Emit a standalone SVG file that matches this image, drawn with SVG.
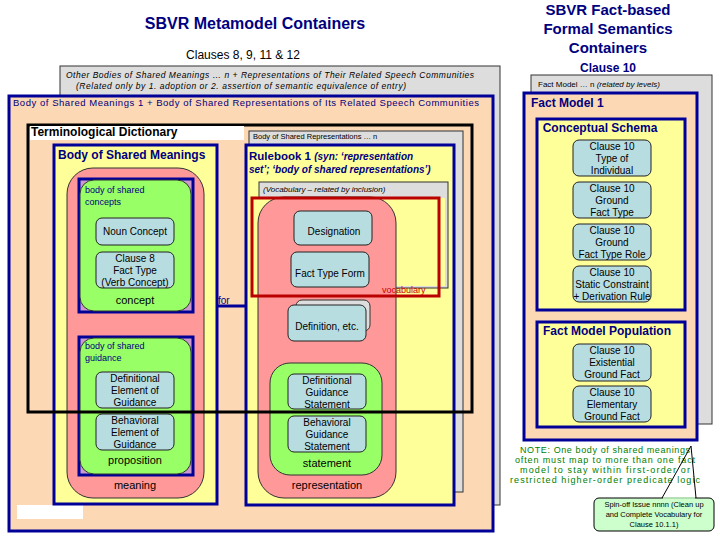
<svg xmlns="http://www.w3.org/2000/svg" width="720" height="540" viewBox="0 0 720 540">
<style>
text{font-family:"Liberation Sans",Arial,sans-serif}
.nv{stroke:#000099;stroke-width:3}
.peach{fill:#FCD8B4}
.yel{fill:#FFFF99}
.gray{fill:#DDDDDD;stroke:#333;stroke-width:1}
.pink{fill:#FF9999;stroke:#333;stroke-width:1}
.grn{fill:#99FF66;stroke:#333;stroke-width:1}
.bx{fill:#B8DDE0;stroke:#222;stroke-width:1}
.t{font-size:10px;fill:#000;text-anchor:middle}
.s{font-size:8.5px;fill:#000}
.h{font-weight:bold;fill:#000080}
.lbl{font-size:11px;fill:#000;text-anchor:middle}
.g{font-size:9px;fill:#008000;text-anchor:middle}
</style>
<rect width="720" height="540" fill="#fff"/>
<text x="255" y="29" font-size="16" class="h" text-anchor="middle">SBVR Metamodel Containers</text>
<text x="243" y="59" font-size="12" text-anchor="middle">Clauses 8, 9, 11 &amp; 12</text>
<g class="h" font-size="15" text-anchor="middle">
<text x="608" y="15">SBVR Fact-based</text><text x="608" y="34">Formal Semantics</text><text x="608" y="53">Containers</text>
<text x="608" y="72" font-size="12">Clause 10</text></g>

<g id="other-bodies"><rect x="60" y="66" width="440" height="439" class="gray"/>
<text x="66" y="78" class="s" font-style="italic" textLength="408">Other Bodies of Shared Meanings … n + Representations of Their Related Speech Communities</text>
<text x="76" y="89" class="s" font-style="italic" textLength="330">(Related only by 1. adoption or 2. assertion of semantic equivalence of entry)</text></g>

<g id="body1"><rect x="9" y="96" width="484" height="435" class="peach nv"/>
<text x="13" y="106" font-size="9.5" fill="#000080" textLength="466">Body of Shared Meanings 1 + Body of Shared Representations of Its Related Speech Communities</text>
<rect x="17" y="505" width="66" height="14" fill="#fff"/></g>

<g id="reps-n"><rect x="249" y="131" width="214" height="361" class="gray"/>
<text x="253" y="139" font-size="7.5">Body of Shared Representations … n</text></g>

<g id="bsm"><rect x="54" y="145" width="163" height="359" class="yel nv"/>
<text x="58" y="159" font-size="12" class="h">Body of Shared Meanings</text>
<rect x="67" y="168" width="137" height="330" rx="26" class="pink"/>
<text x="135" y="489" class="lbl">meaning</text></g>

<g id="concepts"><rect x="79" y="179" width="114" height="133" fill="#CC99CC" class="nv"/>
<rect x="80" y="180" width="111" height="131" rx="14" class="grn" stroke="none"/>
<text x="85" y="193" font-size="9" fill="#000080">body of shared</text><text x="85" y="205" font-size="9" fill="#000080">concepts</text>
<rect x="96" y="218" width="78" height="27" rx="6" class="bx"/><text x="135" y="235" class="t" font-size="9">Noun Concept</text>
<rect x="96" y="252" width="78" height="36" rx="6" class="bx"/>
<text x="135" y="262" class="t" font-size="9">Clause 8</text><text x="135" y="274" class="t" font-size="9">Fact Type</text><text x="135" y="286" class="t" font-size="9">(Verb Concept)</text>
<text x="135" y="304" class="lbl">concept</text></g>

<g id="guidance"><rect x="79" y="337" width="114" height="138" fill="#CC99CC" class="nv"/>
<rect x="80" y="338" width="111" height="136" rx="14" class="grn" stroke="none"/>
<text x="85" y="349" font-size="9" fill="#000080">body of shared</text><text x="85" y="361" font-size="9" fill="#000080">guidance</text>
<rect x="96" y="372" width="78" height="36" rx="6" class="bx"/>
<text x="135" y="382" class="t" font-size="9">Definitional</text><text x="135" y="394" class="t" font-size="9">Element of</text><text x="135" y="406" class="t" font-size="9">Guidance</text>
<rect x="96" y="414" width="78" height="36" rx="6" class="bx"/>
<text x="135" y="424" class="t" font-size="9">Behavioral</text><text x="135" y="436" class="t" font-size="9">Element of</text><text x="135" y="448" class="t" font-size="9">Guidance</text>
<text x="135" y="464" class="lbl">proposition</text></g>

<g id="rulebook"><rect x="246" y="145" width="208" height="360" class="yel nv"/>
<text x="249" y="160" font-size="11.5" font-weight="bold" fill="#000080">Rulebook 1 <tspan font-style="italic" font-size="10">(syn: ‘representation</tspan></text>
<text x="249" y="173" font-size="10" font-weight="bold" font-style="italic" fill="#000080">set’; ‘body of shared representations’)</text>
<rect x="259" y="182" width="189" height="106" class="gray"/>
<rect x="256" y="198" width="189" height="88" class="yel"/>
<text x="263" y="192" font-size="8" font-style="italic">(Vocabulary – related by inclusion)</text>
<rect x="258" y="197" width="138" height="301" rx="26" class="pink"/>
<text x="327" y="489" class="lbl">representation</text></g>

<g id="designation"><rect x="294" y="211" width="78" height="34" rx="6" class="bx"/><text x="334" y="235" class="t" font-size="9">Designation</text></g>
<g id="fact-type-form"><rect x="291" y="252" width="78" height="35" rx="6" class="bx"/><text x="330" y="277" class="t" font-size="9">Fact Type Form</text></g>
<g id="vocabulary"><rect x="252" y="198" width="187" height="98" fill="none" stroke="#BB0000" stroke-width="3"/>
<text x="382" y="293" font-size="9" fill="#CC0000">vocabulary</text></g>
<g id="definition"><rect x="296" y="300" width="74" height="31" rx="6" fill="#DDDDDD" stroke="#333"/>
<rect x="288" y="305" width="78" height="36" rx="6" class="bx"/><text x="327" y="330" class="t" font-size="9">Definition, etc.</text></g>
<g id="statement"><rect x="270" y="363" width="112" height="112" rx="20" class="grn"/>
<rect x="288" y="374" width="78" height="35" rx="6" class="bx"/>
<text x="327" y="384" class="t" font-size="9">Definitional</text><text x="327" y="396" class="t" font-size="9">Guidance</text><text x="327" y="408" class="t" font-size="9">Statement</text>
<rect x="288" y="416" width="78" height="36" rx="6" class="bx"/>
<text x="327" y="426" class="t" font-size="9">Behavioral</text><text x="327" y="438" class="t" font-size="9">Guidance</text><text x="327" y="450" class="t" font-size="9">Statement</text>
<text x="327" y="467" class="lbl">statement</text></g>

<g id="term-dict"><rect x="28" y="125" width="444" height="287" fill="none" stroke="#000" stroke-width="3"/>
<rect x="30" y="126" width="214" height="14" fill="#fff"/>
<text x="31" y="136" font-size="12" font-weight="bold">Terminological Dictionary</text></g>

<g id="connectors"><line x1="218" y1="306" x2="246" y2="306" stroke="#000099" stroke-width="3"/>
<text x="218" y="304" font-size="10" fill="#000080">for</text></g>

<g id="fact-models"><rect x="531" y="75" width="181" height="349" class="gray"/>
<text x="538" y="87" font-size="8">Fact Model … n <tspan font-style="italic">(related by levels)</tspan></text>
<rect x="524" y="93" width="173" height="347" class="peach nv"/>
<text x="531" y="107" font-size="12" class="h">Fact Model 1</text></g>
<g id="schema"><rect x="537" y="119" width="148" height="191" class="yel nv"/>
<text x="600" y="132" font-size="12" class="h" text-anchor="middle">Conceptual Schema</text>
<g class="t" font-size="9">
<rect x="573" y="140" width="78" height="36" rx="6" class="bx"/><text x="612" y="150">Clause 10</text><text x="612" y="162">Type of</text><text x="612" y="174">Individual</text>
<rect x="573" y="182" width="78" height="36" rx="6" class="bx"/><text x="612" y="192">Clause 10</text><text x="612" y="204">Ground</text><text x="612" y="216">Fact Type</text>
<rect x="573" y="224" width="78" height="36" rx="6" class="bx"/><text x="612" y="234">Clause 10</text><text x="612" y="246">Ground</text><text x="612" y="258">Fact Type Role</text>
<rect x="573" y="266" width="78" height="36" rx="6" class="bx"/><text x="612" y="276">Clause 10</text><text x="612" y="288">Static Constraint</text><text x="612" y="300">+ Derivation Rule</text></g></g>
<g id="population"><rect x="537" y="322" width="148" height="105" class="yel nv"/>
<text x="607" y="335" font-size="12" class="h" text-anchor="middle">Fact Model Population</text>
<g class="t" font-size="9">
<rect x="573" y="344" width="78" height="37" rx="6" class="bx"/><text x="612" y="354">Clause 10</text><text x="612" y="366">Existential</text><text x="612" y="378">Ground Fact</text>
<rect x="573" y="386" width="78" height="36" rx="6" class="bx"/><text x="612" y="396">Clause 10</text><text x="612" y="408">Elementary</text><text x="612" y="420">Ground Fact</text></g></g>
<g id="note"><text x="605" y="453" class="g" font-size="8" textLength="170">NOTE: One body of shared meanings</text>
<text x="605" y="463" class="g" font-size="8" textLength="180">often must map to more than one fact</text>
<text x="605" y="473" class="g" font-size="8" textLength="170">model to stay within first-order or</text>
<text x="605" y="483" class="g" font-size="8" textLength="190">restricted higher-order predicate logic</text></g>
<g id="spinoff"><rect x="594" y="498" width="120" height="33" rx="5" fill="#CCFFCC" stroke="#000"/>
<path d="M662 498 L691 446 L696 498" fill="none" stroke="#000"/>
<line x1="663" y1="498" x2="695" y2="498" stroke="#CCFFCC" stroke-width="1.5"/>
<text x="654" y="507" font-size="7.5" text-anchor="middle">Spin-off Issue nnnn (Clean up</text>
<text x="654" y="517" font-size="7.5" text-anchor="middle">and Complete Vocabulary for</text>
<text x="654" y="527" font-size="7.5" text-anchor="middle">Clause 10.1.1)</text></g>
</svg>
